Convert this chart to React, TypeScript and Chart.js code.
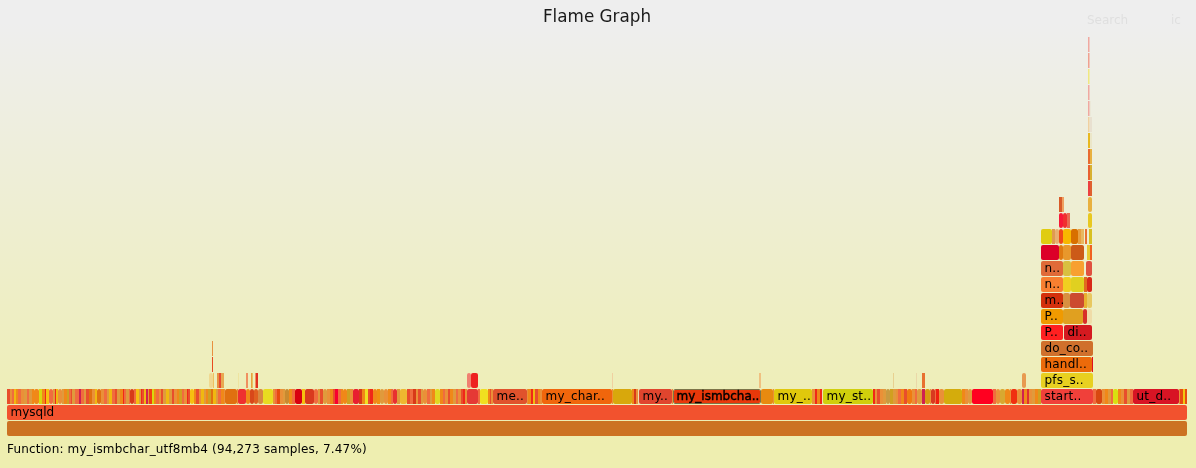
import React, { useEffect, useRef } from "react";
import { Chart, registerables } from "chart.js";

Chart.register(...registerables);

// Horizontal unit: 1/1180 of all samples (about 1,070 samples).
const levelNames = ["L0","L1","L2","L3","L4","L5","L6","L7","L8","L9","L10","L11","L12","L13","L14","L15","L16","L17","L18","L19","L20","L21","L22","L23","L24"];

const a = "#e84e2c", b = "#ea9038", c = "#f06c3e", d = "#f0b810", e = "#f08818", f = "#d8d810", g = "#f02818", h = "#e09a3c", i = "#d83a18", j = "#f6c010", k = "#e07010", l = "#d02050", m = "#d0a020", pale = "#efdcae";

const level0Spans = [[0, 1180]];
const level0Colors = ["#cc7222"];
const level1Spans = [[0, 1180]];
const level1Colors = ["#f2522e"];

const level2Widths = [
  3,2,2,2,2,3,3,3,2,3,2,5,3,3,1,3,4,2,1,2,4,2,3,2,2,1,3,1,3,2,3,2,3,3,3,2,4,3,3,2,3,3,2,3,3,1,2,3,1,4,2,3,2,1,2,2,2,1,3,2,2,3,2,2,3,3,3,2,3,2,3,2,3,1,2,4,2,3,2,3,2,2,3,2,3,2,3,3,1,
  12,1,8,4,4,4,5,10,2,2,3,3,2,4,3,3,7,3,9,4,2,3,4,3,3,2,3,3,2,4,3,3,6,3,3,3,2,3,4,3,4,4,3,2,4,3,7,3,3,3,2,3,2,4,3,2,3,5,3,2,3,2,3,3,2,3,2,2,2,11,2,8,2,1,2,
  34,1,3,2,2,3,2,2,70,1,19,2,2,2,1,33,1,88,12,1,38,3,2,3,2,1,50,2,2,3,3,3,4,3,3,2,3,3,3,5,3,2,5,3,5,1,4,1,3,5,18,3,3,4,21,3,4,5,5,1,6,5,2,3,2,3,3,3,3,52,3,6,3,3,3,2,5,3,3,3,3,3,46,1,3,2,2,
];
const level2Colors = [
  a,b,c,d,e,c,b,h,c,h,e,e,f,e,g,j,c,h,g,d,b,h,e,m,c,a,h,c,c,l,c,h,a,k,b,d,k,b,c,h,d,c,a,h,e,g,c,h,c,i,c,j,h,g,a,d,l,h,"#f04010",f,e,c,b,a,h,d,h,a,b,e,m,c,b,g,a,j,e,a,b,d,h,e,m,k,d,h,c,e,b,
  "#e07010",b,"#ee3030",e,"#d8481a","#e06020","#d88840","#e8dc20",b,c,"#e84a10",b,h,"#c88a30",e,c,"#d80010",j,"#d93a1e",c,h,a,h,b,e,a,"#f80030",c,e,e,m,b,"#e82030",i,e,"#f0e020",a,g,e,"#f09010",h,b,e,c,"#e83030",h,"#eeb830",a,c,i,b,a,h,b,c,h,e,"#e0d820",e,c,b,a,e,h,c,b,a,g,b,"#e53935",c,"#f0e020",e,a,b,
  "#e0522c",b,e,g,d,a,e,b,"#f0660c",b,"#d8a80c",e,i,b,pale,"#e0452e",b,"#e8380a","#e88a10",b,"#e0c80c",b,g,e,g,pale,"#d0cf0c",g,b,a,b,h,"#c89a40",m,h,b,c,e,a,"#f07a10",b,c,h,"#d02050","#d89a10",b,"#d83a20",c,"#f02010",b,"#d4ac0c",e,b,h,"#ff0020",c,b,"#d8a830",e,b,"#f03010",b,"#d02050",e,"#e03030",b,h,e,m,"#f0403a",c,"#d84810",b,e,h,c,"#d8e010",e,b,a,h,c,"#d81424",b,"#e84a10","#f0c810","#e84a10",
];

const level3Spans = [[202,206],[206,207],[210,212],[212,214],[214,217],[231,232],[239,241],[244,245],[245,246],[248,249],[249,251],[460,464],[464,471],[605,606],[752,754],[886,887],[909,910],[915,918],[1015,1019],[1034,1086]];
const level3Colors = ["#f0d890","#efc060","#e89040","#e84a30","#e8a850","#eee4a0","#f09060","#e8a040","#e8c060","#f09060","#e03020","#f08070","#ee2020","#f0d0a0","#f0c080","#e8d090","#ead8a8","#e87030","#e89a50","#e8d020"];
const level4Spans = [[205,206],[1034,1085],[1085,1086]];
const level4Colors = ["#e84a20","#ec6a0a","#e01020"];
const level5Spans = [[205,206],[1034,1086]];
const level5Colors = ["#e89040","#d0702c"];
const level6Spans = [[1034,1056],[1057,1085]];
const level6Colors = ["#ff2020","#d41a20"];
const level7Spans = [[1034,1056],[1056,1076],[1076,1080],[1080,1085]];
const level7Colors = ["#f09a00","#e0a020","#d83028","#efdca8"];
const level8Spans = [[1034,1056],[1056,1063],[1063,1077],[1077,1080],[1080,1085]];
const level8Colors = ["#d4300c","#d89040","#cc4a30","#e8b030","#e8c860"];
const level9Spans = [[1034,1056],[1056,1064],[1064,1077],[1077,1080],[1080,1085]];
const level9Colors = ["#f87f30","#f0d020","#e0d020","#e06a20","#d82818"];
const level10Spans = [[1034,1056],[1056,1064],[1064,1077],[1079,1085]];
const level10Colors = ["#e06a38","#d8c040","#f8a030","#e05040"];
const level11Spans = [[1034,1052],[1052,1056],[1056,1064],[1064,1077],[1080,1083],[1083,1085]];
const level11Colors = ["#dc0028","#e07a10","#e8982c","#cc5a18","#e8c830","#f06020"];
const level12Spans = [[1034,1045],[1045,1048],[1048,1052],[1052,1056],[1056,1064],[1064,1071],[1071,1074],[1074,1077],[1078,1080],[1082,1085]];
const level12Colors = ["#e0cc10","#e09a50","#e8b070","#f04a18","#f8b800","#d87000","#e8a040","#e8b860","#e87030","#d8c020"];
const level13Spans = [[1052,1056],[1056,1060],[1060,1063],[1081,1085]];
const level13Colors = ["#f81838","#f03030","#e86a50","#e8c820"];
const level14Spans = [[1052,1055],[1055,1057],[1081,1085]];
const level14Colors = ["#d85a28","#f0a060","#e8b040"];
const level15Spans = [[1081,1083],[1083,1085]];
const level15Colors = ["#ec4040","#e06030"];
const level16Spans = [[1081,1083],[1083,1085]];
const level16Colors = ["#e86030","#d8b030"];
const level17Spans = [[1081,1083],[1083,1085]];
const level17Colors = ["#e86a30","#e8b040"];
const level18Spans = [[1081,1083],[1083,1085]];
const level18Colors = ["#e8b820","#ebe6c8"];
const level19Spans = [[1081,1082.5],[1083,1085]];
const level19Colors = ["#f0d0a0","#e8e0d0"];
const level20Spans = [[1081,1082.5],[1083,1084]];
const level20Colors = ["#f0a8a0","#ebe8d8"];
const level21Spans = [[1081,1082.5]];
const level21Colors = ["#f0a8a0"];
const level22Spans = [[1081,1082.5]];
const level22Colors = ["#f0e880"];
const level23Spans = [[1081,1082.5]];
const level23Colors = ["#f0a090"];
const level24Spans = [[1081,1082.5]];
const level24Colors = ["#f0a8a0"];

const frameNames: [string, number, string][] = [
  ["L1", 10, "mysqld"],
  ["L2", 500, "me.."], ["L2", 560, "my_char.."], ["L2", 650, "my.."], ["L2", 700, "my_ismbcha.."],
  ["L2", 790, "my_.."], ["L2", 840, "my_st.."], ["L2", 1050, "start.."], ["L2", 1150, "ut_d.."],
  ["L3", 1050, "pfs_s.."], ["L4", 1050, "handl.."], ["L5", 1050, "do_co.."],
  ["L6", 1040, "P.."], ["L6", 1070, "di.."], ["L7", 1040, "P.."], ["L8", 1040, "m.."],
  ["L9", 1040, "n.."], ["L10", 1040, "n.."],
];
const highlightedName = "my_ismbcha..";

const titleText = "Flame Graph";
const functionText = "Function: my_ismbchar_utf8mb4 (94,273 samples, 7.47%)";
const searchText = "Search";
const caseText = "ic";
const totalUnits = 1180;

const FONT = "'DejaVu Sans', Verdana, sans-serif";

type Frame = { x: [number, number]; y: string; color: string; name?: string };

function cumulative(widths: number[]): number[][] {
  const out: number[][] = [];
  let at = 0;
  widths.forEach((w) => {
    out.push([at, at + w]);
    at += w;
  });
  return out;
}

function buildFrames(): Frame[] {
  const rows: [number[][], string[]][] = [
    [level0Spans, level0Colors], [level1Spans, level1Colors], [cumulative(level2Widths), level2Colors],
    [level3Spans, level3Colors], [level4Spans, level4Colors], [level5Spans, level5Colors],
    [level6Spans, level6Colors], [level7Spans, level7Colors], [level8Spans, level8Colors],
    [level9Spans, level9Colors], [level10Spans, level10Colors], [level11Spans, level11Colors],
    [level12Spans, level12Colors], [level13Spans, level13Colors], [level14Spans, level14Colors],
    [level15Spans, level15Colors], [level16Spans, level16Colors], [level17Spans, level17Colors],
    [level18Spans, level18Colors], [level19Spans, level19Colors], [level20Spans, level20Colors],
    [level21Spans, level21Colors], [level22Spans, level22Colors], [level23Spans, level23Colors],
    [level24Spans, level24Colors],
  ];
  const frames: Frame[] = [];
  rows.forEach(([spans, colors], r) => {
    spans.forEach((s, n) => {
      const level = levelNames[r];
      const named = frameNames.find((t) => t[0] === level && t[1] >= s[0] && t[1] < s[1]);
      frames.push({ x: [s[0], s[1]], y: level, color: colors[n] ?? pale, name: named ? named[2] : undefined });
    });
  });
  return frames;
}

const flamePlugin = {
  id: "flame",
  beforeDraw(chart: any) {
    const { ctx, width, height } = chart;
    const grad = ctx.createLinearGradient(0, 0, 0, height);
    grad.addColorStop(0.05, "#eeeeee");
    grad.addColorStop(0.95, "#eeeeb0");
    ctx.save();
    ctx.fillStyle = grad;
    ctx.fillRect(0, 0, width, height);
    ctx.restore();
  },
  afterDatasetsDraw(chart: any) {
    const { ctx } = chart;
    const meta = chart.getDatasetMeta(0);
    const frames = chart.data.datasets[0].data as Frame[];
    ctx.save();
    ctx.textBaseline = "alphabetic";
    ctx.textAlign = "left";
    ctx.fillStyle = "#000000";
    ctx.strokeStyle = "#000000";
    ctx.font = `12px ${FONT}`;
    meta.data.forEach((el: any, n: number) => {
      const fr = frames[n];
      if (!fr.name) return;
      const spaced = fr.name !== highlightedName && fr.name !== "mysqld";
      (ctx as any).letterSpacing = spaced ? "0.2px" : "0px";
      const tx = el.base + 3.5;
      ctx.fillText(fr.name, tx, el.y + 3.5);
      if (fr.name === highlightedName) {
        ctx.lineWidth = 0.4;
        ctx.strokeText(fr.name, tx, el.y + 3.5);
      }
    });
    (ctx as any).letterSpacing = "0.17px";
    ctx.fillText(functionText, 7, 453);
    (ctx as any).letterSpacing = "0px";
    ctx.fillStyle = "#dfdfdf";
    ctx.fillText(searchText, 1087, 24);
    ctx.fillText(caseText, 1171, 24);
    ctx.restore();
  },
};

export default function App() {
  const ref = useRef<HTMLCanvasElement | null>(null);
  useEffect(() => {
    const frames = buildFrames();
    const chart = new Chart(ref.current as HTMLCanvasElement, {
      type: "bar",
      data: {
        labels: levelNames,
        datasets: [
          {
            data: frames as any,
            backgroundColor: frames.map((fr) => fr.color),
            borderColor: frames.map((fr) => (fr.name === highlightedName ? "#7d7448" : fr.color)),
            borderWidth: frames.map((fr) => (fr.name === highlightedName ? 1 : 0)),
            borderRadius: frames.map((fr) => (fr.x[1] - fr.x[0] < 4 ? 0 : 2)),
            borderSkipped: false,
            inflateAmount: 0,
            barThickness: 15,
          } as any,
        ],
      },
      options: {
        indexAxis: "y",
        animation: false,
        responsive: false,
        devicePixelRatio: 1,
        layout: { padding: { left: 7, right: 9, top: 0, bottom: 31.5 } },
        scales: {
          x: { type: "linear", min: 0, max: totalUnits, display: false },
          y: { type: "category", reverse: true, display: false },
        },
        plugins: {
          legend: { display: false },
          tooltip: { enabled: false },
          title: {
            display: true,
            text: titleText,
            color: "#1a1a1a",
            font: { family: FONT, size: 16.8, weight: "normal", lineHeight: 1.2 },
            padding: { top: 8, bottom: 8.34 },
          },
        },
      } as any,
      plugins: [flamePlugin],
    });
    return () => chart.destroy();
  }, []);
  return (
    <div style={{ position: "fixed", left: 0, top: 0 }}>
      <canvas ref={ref} width={1196} height={468} style={{ display: "block" }} />
    </div>
  );
}
